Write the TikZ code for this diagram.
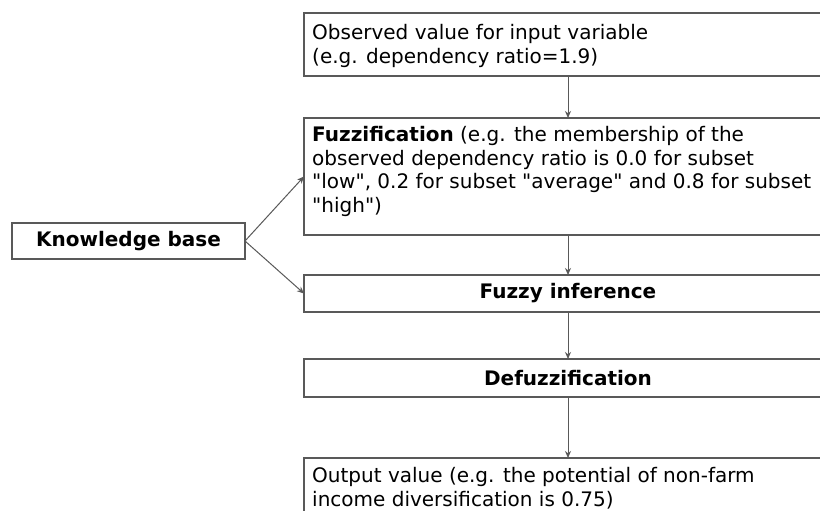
\documentclass[tikz,border=0pt]{standalone}
\usepackage{fontspec}
\setmainfont{DejaVu Sans}[Ligatures=TeXOff]
\usetikzlibrary{arrows.meta}
\begin{document}
\begin{tikzpicture}[x=1pt,y=-1pt,
  box/.style={draw=black!65, line width=1.1pt, inner sep=0pt, outer sep=0pt, anchor=north west},
  arr/.style={draw=black!65, line width=1pt, -{Stealth[length=7pt,width=6pt]}},
  txt/.style={font=\fontsize{20}{23.5}\selectfont, inner sep=0pt, align=left, anchor=north west},
  ctxt/.style={font=\fontsize{20}{23.5}\selectfont\bfseries, inner sep=0pt}]
\useasboundingbox (0,0) rectangle (820,511);
\clip (0,0) rectangle (820,511);
\fill[white] (0,0) rectangle (820,511);
% boxes
\node[box, minimum width=528, minimum height=63] (obs) at (304,13) {};
\node[box, minimum width=528, minimum height=117] (fuzz) at (304,118) {};
\node[box, minimum width=528, minimum height=37] (infer) at (304,275) {};
\node[box, minimum width=528, minimum height=38] (defuzz) at (304,359) {};
\node[box, minimum width=528, minimum height=70] (out) at (304,458) {};
\node[box, minimum width=233, minimum height=36] (kb) at (12,223) {};
% texts
\node[txt] (obst) at (312,23) {\strut Observed value for input variable\\(e.g. dependency ratio=1.9)};
\node[txt] (fuzzt) at (312,125) {\strut\textbf{Fuzzification} (e.g. the membership of the\\observed dependency ratio is 0.0 for subset\\"low", 0.2 for subset "average" and 0.8 for subset\\"high")};
\node[ctxt] (infert) at (infer.center) {Fuzzy inference};
\node[ctxt] (defuzzt) at (defuzz.center) {Defuzzification};
\node[txt] (outt) at (312,466) {\strut Output value (e.g. the potential of non-farm\\income diversification is 0.75)};
\node[ctxt] (kbt) at (kb.center) {Knowledge base};
% connectors
\draw[arr] (obs.south -| 568,0) -- (fuzz.north -| 568,0);
\draw[arr] (fuzz.south -| 568,0) -- (infer.north -| 568,0);
\draw[arr] (infer.south -| 568,0) -- (defuzz.north -| 568,0);
\draw[arr] (defuzz.south -| 568,0) -- (out.north -| 568,0);
\draw[arr] (kb.east) -- (fuzz.west);
\draw[arr] (kb.east) -- (infer.west);
\end{tikzpicture}
\end{document}
